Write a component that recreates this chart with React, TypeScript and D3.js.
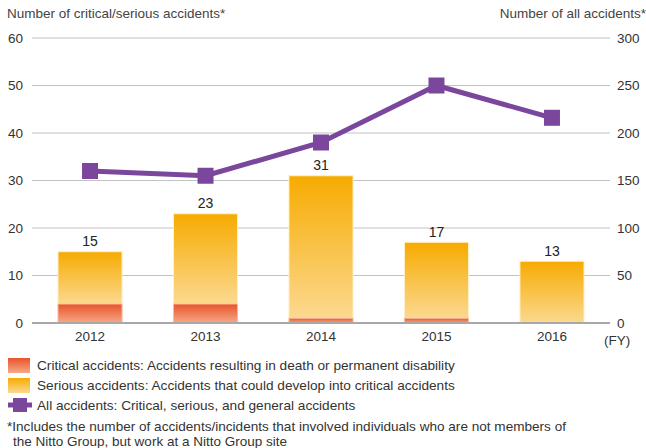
import { useMemo } from 'react';
import * as d3 from 'd3';

// fiscal years on the x axis
const years = ['2012', '2013', '2014', '2015', '2016'];
// critical accidents (bottom segment)
const critical = [4, 4, 1, 1, 0];
// serious accidents (top segment)
const serious = [11, 19, 30, 16, 13];
// all accidents, read against the right axis
const allAccidents = [160, 155, 190, 250, 216];

const leftTicks = [0, 10, 20, 30, 40, 50, 60];
const rightTicks = [0, 50, 100, 150, 200, 250, 300];

const legendItems = [
  'Critical accidents: Accidents resulting in death or permanent disability',
  'Serious accidents: Accidents that could develop into critical accidents',
  'All accidents: Critical, serious, and general accidents',
];
const footnote = [
  '*Includes the number of accidents/incidents that involved individuals who are not members of',
  'the Nitto Group, but work at a Nitto Group site',
];

const width = 646;
const height = 448;
const marginLeft = 32;
const plotRight = 610;
const plotTop = 38;
const plotBottom = 323;
const font = '"Liberation Sans", Arial, Helvetica, sans-serif';
const purple = '#7b479c';

export default function App() {
  const x = useMemo(
    () => d3.scaleBand<string>().domain(years).range([marginLeft, plotRight]).paddingInner(0.445).paddingOuter(0.225),
    []
  );
  const yLeft = d3.scaleLinear().domain([0, 60]).range([plotBottom, plotTop]);
  const yRight = d3.scaleLinear().domain([0, 300]).range([plotBottom, plotTop]);

  const line = d3
    .line<number>()
    .x((d, i) => (x(years[i]) ?? 0) + x.bandwidth() / 2)
    .y(d => yRight(d));

  const marker = 16;

  return (
    <svg width={width} height={height} style={{ position: 'absolute', left: 0, top: 0, fontFamily: font }}>
      <defs>
        <linearGradient id="seriousGrad" x1="0" y1="0" x2="0" y2="1">
          <stop offset="0%" stopColor="#f6ab00" />
          <stop offset="100%" stopColor="#fcd990" />
        </linearGradient>
        <linearGradient id="criticalGrad" x1="0" y1="0" x2="0" y2="1">
          <stop offset="0%" stopColor="#e9542a" />
          <stop offset="100%" stopColor="#f5a986" />
        </linearGradient>
      </defs>

      {/* axis titles */}
      <text x={7} y={18} fontSize={13.5} fill="#444">Number of critical/serious accidents*</text>
      <text x={646} y={18} fontSize={13.5} fill="#444" textAnchor="end">Number of all accidents*</text>

      {/* grid */}
      {leftTicks.map(t =>
        t === 0 ? null : (
          <line key={t} x1={marginLeft} x2={plotRight} y1={yLeft(t)} y2={yLeft(t)} stroke="#c2c2c2" strokeWidth={1} />
        )
      )}
      {leftTicks.map(t => (
        <text key={t} x={23} y={yLeft(t)} dy="0.35em" fontSize={13.5} fill="#333" textAnchor="end">{t}</text>
      ))}
      {rightTicks.map(t => (
        <text key={t} x={617} y={yRight(t)} dy="0.35em" fontSize={13.5} fill="#333">{t}</text>
      ))}

      {/* stacked bars */}
      {years.map((yr, i) => {
        const x0 = x(yr) ?? 0;
        const bw = x.bandwidth();
        const total = critical[i] + serious[i];
        return (
          <g key={yr}>
            <rect
              x={x0} y={yLeft(total)} width={bw} height={yLeft(critical[i]) - yLeft(total)}
              fill="url(#seriousGrad)" stroke="#fff0c8" strokeWidth={1}
            />
            {critical[i] > 0 && (
              <rect
                x={x0} y={yLeft(critical[i])} width={bw} height={yLeft(0) - yLeft(critical[i])}
                fill="url(#criticalGrad)" stroke="#f9bba0" strokeWidth={1}
              />
            )}
            <text x={x0 + bw / 2} y={yLeft(total) - 5.5} fontSize={14} fill="#222" textAnchor="middle">{total}</text>
            <text x={x0 + bw / 2} y={plotBottom + 18} fontSize={13.5} fill="#333" textAnchor="middle">{yr}</text>
          </g>
        );
      })}

      {/* baseline */}
      <line x1={marginLeft} x2={plotRight} y1={plotBottom} y2={plotBottom} stroke="#a8a8a8" strokeWidth={2} />
      <text x={604} y={345} fontSize={13.5} fill="#333">(FY)</text>

      {/* all accidents line */}
      <path d={line(allAccidents) ?? ''} fill="none" stroke={purple} strokeWidth={5} />
      {allAccidents.map((v, i) => (
        <rect
          key={i}
          x={(x(years[i]) ?? 0) + x.bandwidth() / 2 - marker / 2}
          y={yRight(v) - marker / 2}
          width={marker} height={marker} fill={purple}
        />
      ))}

      {/* legend */}
      <rect x={8} y={358} width={22} height={15} fill="url(#criticalGrad)" />
      <rect x={8} y={378} width={22} height={15} fill="url(#seriousGrad)" />
      <line x1={8} x2={32} y1={405} y2={405} stroke={purple} strokeWidth={5} />
      <rect x={13} y={398} width={14} height={14} fill={purple} />
      {legendItems.map((t, i) => (
        <text key={t} x={37} y={370 + i * 20} fontSize={13.65} fill="#333">{t}</text>
      ))}
      <text x={7} y={431} fontSize={12.6} fill="#333" textLength={559} lengthAdjust="spacingAndGlyphs">{footnote[0]}</text>
      <text x={13} y={446} fontSize={12.6} fill="#333" textLength={274} lengthAdjust="spacingAndGlyphs">{footnote[1]}</text>
    </svg>
  );
}
